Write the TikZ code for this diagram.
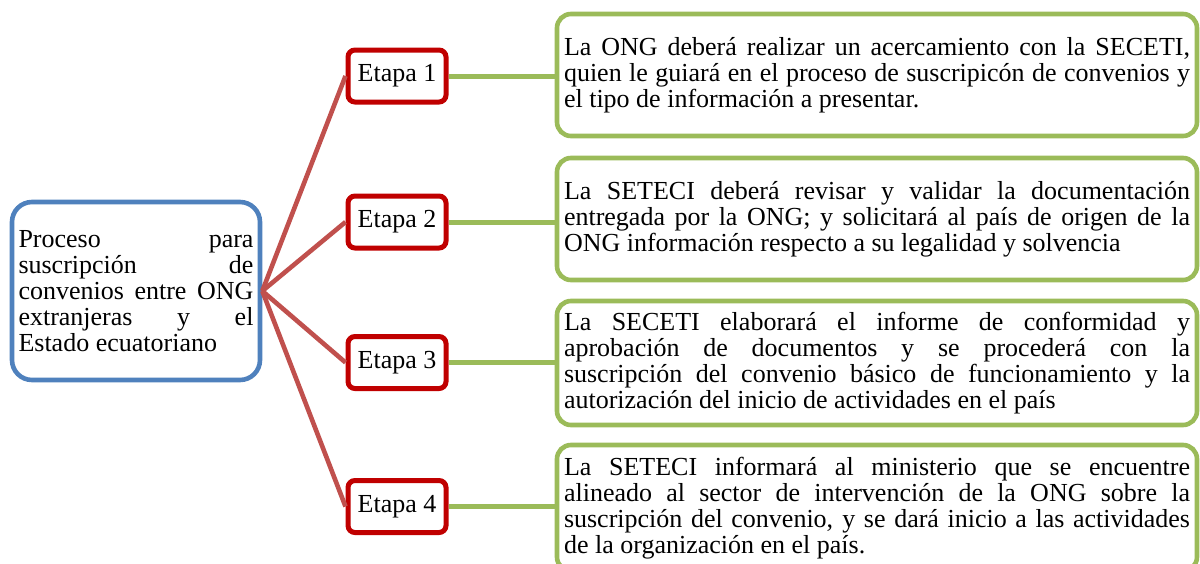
\documentclass[tikz,border=0pt]{standalone}
\usepackage{fontspec}
\setmainfont{Liberation Serif}
\definecolor{bluebox}{HTML}{4F81BD}
\definecolor{redbox}{HTML}{C00000}
\definecolor{redline}{HTML}{C0504D}
\definecolor{greenbox}{HTML}{9BBB59}
\hyphenpenalty=10000
\tolerance=10000
\begin{document}
\begin{tikzpicture}[x=0.5pt,y=-0.5pt,
  txt/.style={font=\fontsize{13}{13}\selectfont},
  mainbox/.style={txt,draw=bluebox,line width=2.3pt,rounded corners=10pt,fill=white,
    minimum width=124pt,minimum height=89pt,text width=117.5pt,align=justify,inner sep=0pt},
  etapabox/.style={txt,draw=redbox,line width=2.5pt,rounded corners=3.5pt,fill=white,
    minimum width=49pt,minimum height=26pt,inner sep=0pt},
  descbox/.style={txt,draw=greenbox,line width=2.3pt,rounded corners=7pt,fill=white,
    minimum width=320pt,text width=313pt,align=justify,inner sep=0pt},
  redconn/.style={draw=redline,line width=2.3pt},
  greenconn/.style={draw=greenbox,line width=2.5pt}]
\useasboundingbox (0,0) rectangle (1200,563);

\node[mainbox] (main) at (136,291) {Proceso para\linebreak suscripción de\linebreak convenios entre ONG\linebreak extranjeras y el\linebreak Estado ecuatoriano};

\node[etapabox] (e1) at (397,76) {Etapa 1};
\node[etapabox] (e2) at (397,222) {Etapa 2};
\node[etapabox] (e3) at (397,362.5) {Etapa 3};
\node[etapabox] (e4) at (397,506.5) {Etapa 4};

\node[descbox,minimum height=61pt] (d1) at (877,75) {La ONG deberá realizar un acercamiento con la SECETI,\linebreak quien le guiará en el proceso de suscripicón de convenios y\linebreak el tipo de información a presentar.};
\node[descbox,minimum height=61pt] (d2) at (877,219) {La SETECI deberá revisar y validar la documentación\linebreak entregada por la ONG; y solicitará al país de origen de la\linebreak ONG información respecto a su legalidad y solvencia};
\node[descbox,minimum height=62pt] (d3) at (877,363) {La SECETI elaborará el informe de conformidad y\linebreak aprobación de documentos y se procederá con la\linebreak suscripción del convenio básico de funcionamiento y la\linebreak autorización del inicio de actividades en el país};
\node[descbox,minimum height=63pt] (d4) at (877,508) {La SETECI informará al ministerio que se encuentre\linebreak alineado al sector de intervención de la ONG sobre la\linebreak suscripción del convenio, y se dará inicio a las actividades\linebreak de la organización en el país.};

\foreach \i in {1,2,3,4} {
  \draw[redconn] (main.east) -- (e\i.west);
  \draw[greenconn] (e\i.east) -- (e\i.east -| d\i.west);
}
\end{tikzpicture}
\end{document}
